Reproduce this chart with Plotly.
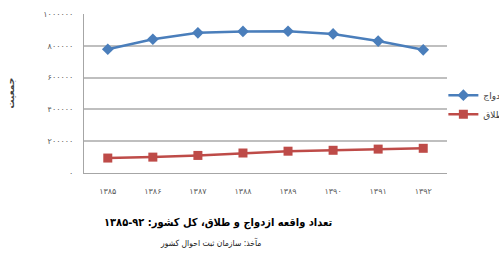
import plotly.graph_objects as go

years = ["۱۳۸۵", "۱۳۸۶", "۱۳۸۷", "۱۳۸۸", "۱۳۸۹", "۱۳۹۰", "۱۳۹۱", "۱۳۹۲"]
marriage = [778447, 841107, 881592, 890208, 891627, 874792, 829968, 774513]
divorce = [94039, 99852, 110510, 125747, 137200, 142841, 150324, 155369]
y_tickvals = [0, 200000, 400000, 600000, 800000, 1000000]
y_ticktext = ["۰", "۲۰۰۰۰۰", "۴۰۰۰۰۰", "۶۰۰۰۰۰", "۸۰۰۰۰۰", "۱۰۰۰۰۰۰"]

FONT = "DejaVu Sans"
FONT_C = "DejaVu Sans Condensed, DejaVu Sans"

fig = go.Figure()
fig.add_trace(go.Scatter(
    x=years, y=marriage, name="ازدواج", mode="lines+markers",
    line=dict(color="#4a7ebb", width=2.5),
    marker=dict(symbol="diamond", size=9, color="#4a7ebb"),
))
fig.add_trace(go.Scatter(
    x=years, y=divorce, name="طلاق", mode="lines+markers",
    line=dict(color="#be4b48", width=2.5),
    marker=dict(symbol="square", size=9, color="#be4b48"),
))

fig.update_layout(
    width=499, height=258,
    margin=dict(l=84, r=52, t=14, b=85, autoexpand=False),
    paper_bgcolor="white", plot_bgcolor="white",
    font=dict(family=FONT, size=8, color="#404040"),
    showlegend=True,
    legend=dict(
        x=0.99, xanchor="left", y=0.43, yanchor="middle",
        font=dict(family=FONT, size=9, color="#404040"),
        bgcolor="rgba(0,0,0,0)", tracegroupgap=0,
    ),
    xaxis=dict(
        type="category", showgrid=False, showline=True,
        linecolor="#a6a6a6", linewidth=1, ticks="",
        ticklabelstandoff=10,
        tickfont=dict(size=8, color="#595959"),
    ),
    yaxis=dict(
        range=[0, 1000000], tickvals=y_tickvals, ticktext=y_ticktext,
        showgrid=True, gridcolor="#bfbfbf", gridwidth=1.5,
        showline=True, linecolor="#a6a6a6", linewidth=1,
        zeroline=False, ticks="", ticklabelstandoff=8,
        tickfont=dict(size=8, color="#595959"),
    ),
    annotations=[
        dict(text="<b>جمعیت</b>", xref="paper", yref="paper",
             x=(3 - 84) / 363, y=0.5, xanchor="left", textangle=-90, showarrow=False,
             font=dict(family=FONT, size=9, color="#404040")),
        dict(text="<b>تعداد واقعه ازدواج و طلاق، کل کشور: ۹۲-۱۳۸۵</b>",
             xref="paper", yref="paper", x=(218 - 84) / 363, y=-(223 - 173) / 159,
             xanchor="center", yanchor="middle", showarrow=False,
             font=dict(family=FONT_C, size=11, color="#000000")),
        dict(text="مآخذ: سازمان ثبت احوال کشور",
             xref="paper", yref="paper", x=(210 - 84) / 363, y=-(243 - 173) / 159,
             xanchor="center", yanchor="middle", showarrow=False,
             font=dict(family=FONT_C, size=8.5, color="#202020")),
    ],
)

fig.write_html("out.html")
